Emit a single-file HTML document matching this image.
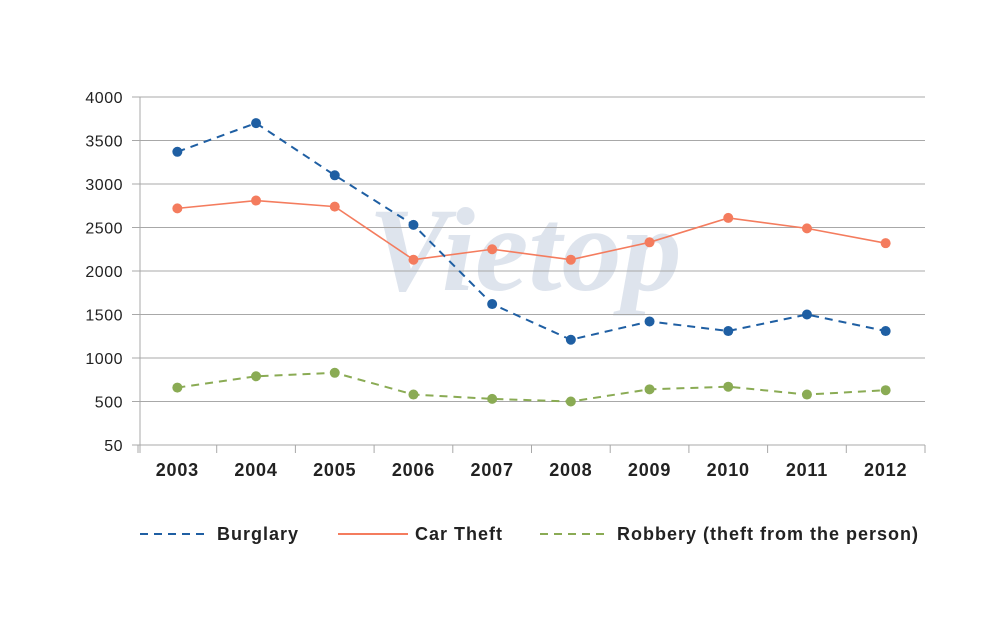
<!DOCTYPE html>
<html><head><meta charset="utf-8"><style>
body{margin:0;background:#fff;font-family:"Liberation Sans",sans-serif}
</style></head><body>
<svg id="c" width="1000" height="622" xmlns="http://www.w3.org/2000/svg">
<text x="525" y="290" text-anchor="middle" font-size="120" font-style="italic" font-weight="bold" fill="#c9d3e2" opacity="0.6" font-family="Liberation Serif, serif">Vietop</text>
<g id="grid"></g><g id="series"></g>
</svg>
<script>
const categories=["2003","2004","2005","2006","2007","2008","2009","2010","2011","2012"];
const burglary=[3370,3700,3100,2530,1620,1210,1420,1310,1500,1310];
const carTheft=[2720,2810,2740,2130,2250,2130,2330,2610,2490,2320];
const robbery=[660,790,830,580,530,500,640,670,580,630];
const yTicks=[0,500,1000,1500,2000,2500,3000,3500,4000];
const yTickLabels=["50","500","1000","1500","2000","2500","3000","3500","4000"];
const NS="http://www.w3.org/2000/svg";
const L=138,R=925,T=97,B=445,yMax=4000;
const bw=(R-L)/categories.length;
const x=i=>L+bw*(i+0.5);
const y=v=>B-(v/yMax)*(B-T);
function mk(tag,at,parent){const e=document.createElementNS(NS,tag);for(const k in at)e.setAttribute(k,at[k]);parent.appendChild(e);return e;}
const g=document.getElementById('grid'),s=document.getElementById('series');
yTicks.forEach((t,i)=>{
 const ln=mk('line',{x1:132,x2:R,y1:y(t),y2:y(t),stroke:'#a8a8a8','stroke-width':1},g);
 
 
 const tx=mk('text',{x:123,y:y(t)+6,'text-anchor':'end','font-size':16,fill:'#222','letter-spacing':0.5},g);
 tx.textContent=yTickLabels[i];
 
 
});
const ax=mk('line',{x1:140,x2:140,y1:T,y2:B+8,stroke:'#a8a8a8'},g);


for(let i=0;i<=categories.length;i++){
 const tk=mk('line',{x1:L+bw*i,x2:L+bw*i,y1:B,y2:B+8,stroke:'#a8a8a8'},g);
 
 
}
categories.forEach((c,i)=>{
 const tx=mk('text',{x:x(i),y:476,'text-anchor':'middle','font-size':18,'font-weight':'bold',fill:'#222','letter-spacing':0.8},g);
 tx.textContent=c;
 
 
});
function series(data,color,dash,name){
 const p=mk('polyline',{points:data.map((v,i)=>x(i)+','+y(v)).join(' '),fill:'none',stroke:color,'stroke-width':dash?2:1.6,'stroke-dasharray':dash||'none'},s);
 
 
 data.forEach((v,i)=>{
  const c=mk('circle',{cx:x(i),cy:y(v),r:5,fill:color},s);
  
  
 });
}
series(carTheft,'#f47c5e',null,'car-theft');
series(burglary,'#1f5fa3','8,6','burglary');
series(robbery,'#8aab54','8,6','robbery');
const leg=[["Burglary",'#1f5fa3','8,6',140],["Car Theft",'#f47c5e',null,338],["Robbery (theft from the person)",'#8aab54','8,6',540]];
leg.forEach(([t,c,d,lx])=>{
 const ln=mk('line',{x1:lx,x2:lx+70,y1:534,y2:534,stroke:c,'stroke-width':2,'stroke-dasharray':d||'none'},g);
 
 
 const tx=mk('text',{x:lx+77,y:540,'font-size':18,'font-weight':'bold',fill:'#222','letter-spacing':1},g);
 tx.textContent=t;
 
 
});
</script>
</body></html>
